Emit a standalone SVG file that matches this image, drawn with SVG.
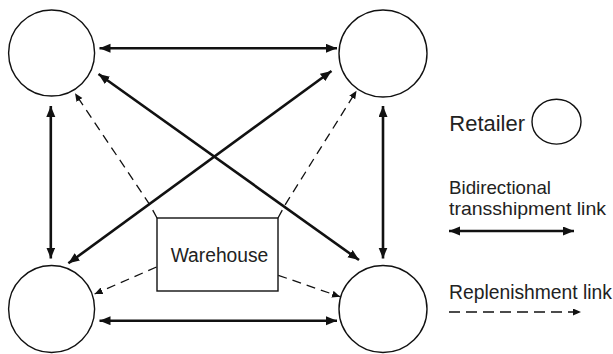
<svg xmlns="http://www.w3.org/2000/svg" width="613" height="354" viewBox="0 0 613 354">
<style>
.node{fill:#fff;stroke:#111;stroke-width:1.4}
.thick{stroke:#111;stroke-width:2.6;fill:none;marker-start:url(#ah);marker-end:url(#ah)}
.dash{stroke:#111;stroke-width:1.3;fill:none;stroke-dasharray:9 6;marker-end:url(#dh)}
text{font-family:"Liberation Sans",Arial,sans-serif;font-size:19.5px;fill:#222}
.leg2{font-size:18.5px}
</style>
<defs>
<marker id="ah" markerUnits="userSpaceOnUse" markerWidth="12" markerHeight="10" refX="11" refY="4.5" orient="auto-start-reverse"><path d="M0,0 L11,4.5 L0,9 z" fill="#111"/></marker>
<marker id="dh" markerUnits="userSpaceOnUse" markerWidth="10" markerHeight="8" refX="8" refY="3.5" orient="auto"><path d="M0,0 L8,3.5 L0,7 z" fill="#111"/></marker>
</defs>
<g id="retailer-tl"><ellipse class="node" cx="51.6" cy="53" rx="43" ry="43"/></g>
<g id="retailer-tr"><ellipse class="node" cx="383" cy="53.5" rx="44" ry="43.5"/></g>
<g id="retailer-bl"><ellipse class="node" cx="51.6" cy="309" rx="43" ry="43.5"/></g>
<g id="retailer-br"><ellipse class="node" cx="383" cy="309" rx="44" ry="43.5"/></g>
<g id="warehouse"><rect class="node" x="157" y="218" width="121" height="73"/><text x="170.7" y="261.7" textLength="97.6" lengthAdjust="spacingAndGlyphs">Warehouse</text></g>
<g id="connectors">
<line class="thick" x1="99.5" y1="48.3" x2="337" y2="48.3"/>
<line class="thick" x1="99.5" y1="320.7" x2="337" y2="320.7"/>
<line class="thick" x1="50.8" y1="106" x2="50.8" y2="258.5"/>
<line class="thick" x1="383" y1="106" x2="383" y2="258.5"/>
<line class="thick" x1="98.5" y1="74" x2="359" y2="260"/>
<line class="thick" x1="331.5" y1="71" x2="68.4" y2="263.3"/>
<path class="dash" d="M157,218 L150,205 L75,93.3"/>
<path class="dash" d="M278,218 L285,205 L356.5,90.7"/>
<line class="dash" x1="156.5" y1="267" x2="94.6" y2="294"/>
<line class="dash" x1="278.3" y1="275.3" x2="340" y2="296.7"/>
</g>
<g id="legend">
<text x="449.3" y="130.7" style="font-size:21.5px" textLength="75.7" lengthAdjust="spacingAndGlyphs">Retailer</text>
<ellipse class="node" cx="556.5" cy="121.7" rx="24.5" ry="22.4"/>
<text class="leg2" x="449" y="193.5" textLength="102" lengthAdjust="spacingAndGlyphs">Bidirectional</text>
<text class="leg2" x="449" y="214.5" textLength="157" lengthAdjust="spacingAndGlyphs">transshipment link</text>
<line class="thick" x1="449" y1="231" x2="574" y2="231"/>
<text x="449" y="298.5" textLength="163" lengthAdjust="spacingAndGlyphs">Replenishment link</text>
<line class="dash" x1="449" y1="312" x2="581" y2="312" style="stroke-dasharray:11 6"/>
</g>
</svg>
